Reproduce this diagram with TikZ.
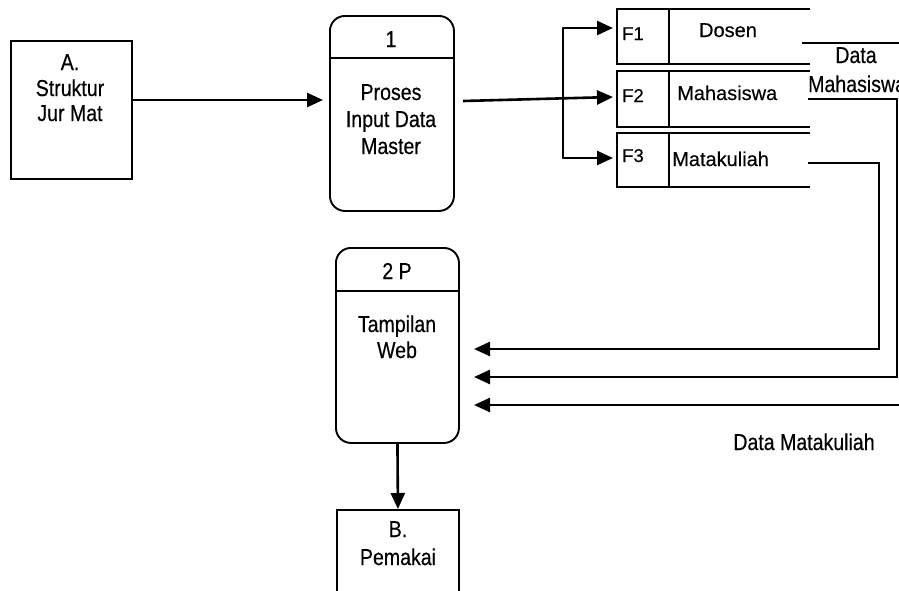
\documentclass[tikz,border=0pt]{standalone}
\usepackage{fontspec}
\setmainfont{Liberation Sans}[FakeBold=0.3]
\newfontfamily\narrowfont{Liberation Sans}[FakeStretch=0.85, FakeBold=0.4]
\usetikzlibrary{arrows.meta}

\begin{document}
\begin{tikzpicture}[x=1pt, y=-1pt,
  boxline/.style={draw, line width=1.9pt, inner sep=0pt, anchor=north west},
  procbox/.style={boxline, rounded corners=15pt},
  txt/.style={font=\narrowfont\fontsize{23}{26}\selectfont, anchor=base, inner sep=0pt},
  storetxt/.style={font=\fontsize{20}{24}\selectfont, anchor=base west, inner sep=0pt},
  fid/.style={font=\fontsize{18.5}{22}\selectfont, anchor=base west, inner sep=0pt},
  conn/.style={line width=2.6pt},
  flow/.style={conn, -{Triangle[length=16pt,width=14pt]}}
]
\useasboundingbox (0,0) rectangle (899,590);

% external entity A
\node[boxline, minimum width=121pt, minimum height=138pt] (a) at (10,40) {};
\node[txt] (a1) at (70,70) {A.};
\node[txt] (a2) at (70,96) {Struktur};
\node[txt] (a3) at (70,121) {Jur Mat};

% process 1
\node[procbox, minimum width=124pt, minimum height=195pt] (p1) at (329,15) {};
\draw[line width=1.9pt] ([yshift=-43pt]p1.north west) -- ([yshift=-43pt]p1.north east);
\node[txt] (p1n) at (391,47) {1};
\node[txt] (p1a) at (391,100) {Proses};
\node[txt] (p1b) at (391,127) {Input Data};
\node[txt] (p1c) at (391,154) {Master};

% process 2
\node[procbox, minimum width=123pt, minimum height=195pt] (p2) at (335,247) {};
\draw[line width=1.9pt] ([yshift=-44pt]p2.north west) -- ([yshift=-44pt]p2.north east);
\node[txt] (p2n) at (397,279) {2 P};
\node[txt] (p2a) at (397,332) {Tampilan};
\node[txt] (p2b) at (397,358) {Web};

% external entity B
\node[boxline, minimum width=122pt, minimum height=86pt] (b) at (336,509) {};
\node[txt] (b1) at (398,537) {B.};
\node[txt] (b2) at (398,565) {Pemakai};

% data stores
\foreach \t/\bt in {9/64, 71/127, 133/187} {
  \draw[line width=1.9pt] (810,\t) -- (617,\t) -- (617,\bt) -- (810,\bt);
  \draw[line width=1.9pt] (669,\t) -- (669,\bt);
}
\node[fid] (f1) at (622,40) {F1};
\node[fid] (f2) at (622,102) {F2};
\node[fid] (f3) at (622,162) {F3};
\node[storetxt, anchor=base] (s1) at (728,37) {Dosen};
\node[storetxt] (s2) at (677,100) {Mahasiswa};
\node[storetxt] (s3) at (672,166) {Matakuliah};

% connector end points
\coordinate (p1in) at (323,100);
\coordinate (p1out) at (463,101);
\coordinate (f1in) at (613,28);
\coordinate (f2in) at (613,97);
\coordinate (f3in) at (613,158);
\coordinate (brtop) at (563,28);
\coordinate (brbot) at (563,158);
\coordinate (s2out) at (808,99);
\coordinate (s3out) at (808,163);
\coordinate (edge) at (899,405);
\coordinate (p2in1) at (474,349);
\coordinate (p2in2) at (474,377);
\coordinate (p2in3) at (474,405);

% flows
\draw[flow] (a.east |- p1in) -- (p1in);
\draw[flow] (p1out) -- (f2in);
\draw[conn, line cap=round] (brtop) -- (brbot);
\draw[flow] (brtop) -- (f1in);
\draw[flow] (brbot) -- (f3in);

\draw[conn] (802,43) -- (899,43);
\node[txt] (dm1) at (856,63) {Data};
\node[txt, anchor=base west] (dm2) at (808,92) {Mahasiswa};
\draw[flow] (s2out) -- (897,99) -- (897,377) -- (p2in2);
\draw[flow] (s3out) -- (879,163) -- (879,349) -- (p2in1);
\draw[flow] (edge) -- (p2in3);
\node[txt] (dmk) at (804,450) {Data Matakuliah};

\draw[flow] (p2.south) -- (b.north);
\end{tikzpicture}
\end{document}
